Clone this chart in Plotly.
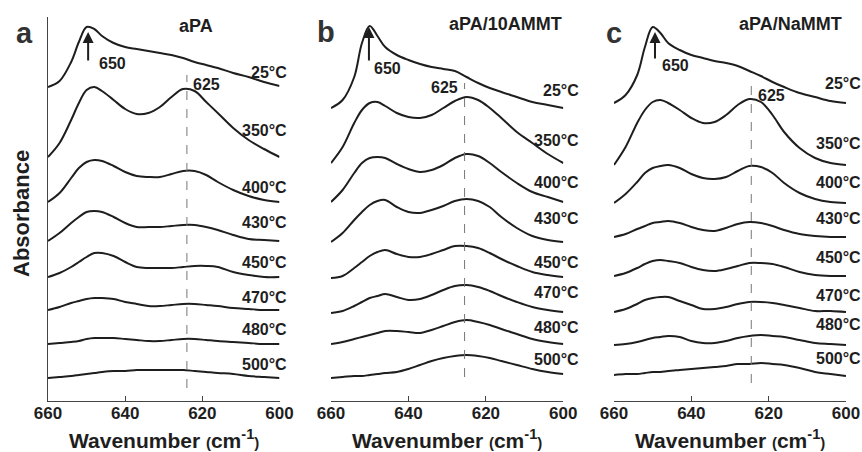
import plotly.graph_objects as go

# ---------------- data ----------------
wavenumber = [660, 657, 654, 652, 650, 648, 646, 643, 640, 637, 634, 631, 628, 625, 622, 619, 616, 612, 608, 604, 600]
temps = ["25°C", "350°C", "400°C", "430°C", "450°C", "470°C", "480°C", "500°C"]
panel_titles = ["aPA", "aPA/10AMMT", "aPA/NaMMT"]
panel_letters = ["a", "b", "c"]
tick_vals = [660, 640, 620, 600]

# panel a : aPA (stacked absorbance, a.u.)
a_25 = [3.15, 3.21, 3.40, 3.60, 3.75, 3.73, 3.66, 3.59, 3.55, 3.53, 3.51, 3.49, 3.47, 3.44, 3.40, 3.37, 3.34, 3.29, 3.25, 3.20, 3.16]
a_350 = [2.45, 2.59, 2.82, 2.99, 3.12, 3.15, 3.11, 3.02, 2.93, 2.88, 2.89, 2.95, 3.05, 3.13, 3.11, 3.00, 2.89, 2.74, 2.62, 2.53, 2.45]
a_400 = [2.00, 2.09, 2.24, 2.34, 2.40, 2.42, 2.41, 2.36, 2.30, 2.26, 2.25, 2.25, 2.28, 2.31, 2.31, 2.27, 2.20, 2.12, 2.06, 2.02, 2.00]
a_430 = [1.61, 1.69, 1.79, 1.85, 1.90, 1.91, 1.90, 1.85, 1.79, 1.75, 1.75, 1.75, 1.76, 1.77, 1.77, 1.75, 1.72, 1.67, 1.63, 1.62, 1.61]
a_450 = [1.25, 1.29, 1.35, 1.40, 1.45, 1.49, 1.49, 1.46, 1.40, 1.35, 1.34, 1.34, 1.34, 1.35, 1.36, 1.36, 1.35, 1.30, 1.27, 1.25, 1.25]
a_470 = [0.92, 0.95, 0.99, 1.01, 1.03, 1.04, 1.04, 1.03, 1.00, 0.98, 0.96, 0.96, 0.97, 0.98, 0.98, 0.97, 0.96, 0.94, 0.93, 0.92, 0.92]
a_480 = [0.58, 0.59, 0.60, 0.61, 0.63, 0.64, 0.64, 0.64, 0.63, 0.62, 0.61, 0.61, 0.62, 0.63, 0.63, 0.62, 0.61, 0.60, 0.59, 0.58, 0.58]
a_500 = [0.24, 0.25, 0.26, 0.27, 0.28, 0.29, 0.30, 0.31, 0.31, 0.32, 0.32, 0.32, 0.32, 0.32, 0.31, 0.30, 0.29, 0.28, 0.26, 0.25, 0.24]

# panel b : aPA/10AMMT
b_25 = [2.94, 3.02, 3.25, 3.59, 3.76, 3.66, 3.55, 3.47, 3.42, 3.38, 3.35, 3.33, 3.31, 3.25, 3.19, 3.14, 3.10, 3.05, 3.00, 2.97, 2.94]
b_350 = [2.39, 2.55, 2.79, 2.92, 2.99, 3.00, 2.96, 2.89, 2.85, 2.84, 2.87, 2.94, 3.01, 3.05, 3.02, 2.94, 2.84, 2.70, 2.59, 2.48, 2.39]
b_400 = [2.00, 2.12, 2.29, 2.39, 2.44, 2.45, 2.44, 2.38, 2.33, 2.30, 2.32, 2.37, 2.44, 2.48, 2.46, 2.39, 2.30, 2.19, 2.10, 2.05, 2.00]
b_430 = [1.60, 1.69, 1.82, 1.90, 1.97, 2.01, 2.02, 1.95, 1.90, 1.89, 1.92, 1.96, 2.01, 2.03, 2.01, 1.95, 1.85, 1.74, 1.66, 1.62, 1.60]
b_450 = [1.24, 1.26, 1.34, 1.40, 1.46, 1.50, 1.52, 1.48, 1.45, 1.45, 1.48, 1.52, 1.56, 1.56, 1.54, 1.49, 1.43, 1.36, 1.30, 1.27, 1.25]
b_470 = [0.89, 0.91, 0.96, 1.00, 1.04, 1.06, 1.08, 1.05, 1.02, 1.03, 1.07, 1.12, 1.16, 1.17, 1.15, 1.11, 1.06, 1.00, 0.95, 0.92, 0.90]
b_480 = [0.58, 0.60, 0.63, 0.65, 0.67, 0.69, 0.71, 0.71, 0.70, 0.69, 0.72, 0.76, 0.80, 0.82, 0.80, 0.77, 0.73, 0.68, 0.63, 0.60, 0.58]
b_500 = [0.24, 0.25, 0.26, 0.26, 0.27, 0.28, 0.29, 0.30, 0.33, 0.37, 0.41, 0.44, 0.46, 0.47, 0.46, 0.44, 0.41, 0.37, 0.33, 0.30, 0.28]

# panel c : aPA/NaMMT
c_25 = [2.99, 3.07, 3.27, 3.55, 3.75, 3.69, 3.59, 3.52, 3.47, 3.44, 3.41, 3.39, 3.36, 3.31, 3.26, 3.20, 3.15, 3.09, 3.05, 3.01, 2.99]
c_350 = [2.37, 2.55, 2.79, 2.92, 3.00, 3.02, 2.99, 2.92, 2.84, 2.79, 2.80, 2.87, 2.97, 3.03, 3.00, 2.87, 2.70, 2.54, 2.44, 2.39, 2.37]
c_400 = [1.99, 2.08, 2.20, 2.29, 2.34, 2.36, 2.37, 2.34, 2.28, 2.24, 2.23, 2.25, 2.31, 2.36, 2.35, 2.29, 2.19, 2.09, 2.03, 2.00, 1.99]
c_430 = [1.65, 1.68, 1.73, 1.76, 1.79, 1.80, 1.81, 1.79, 1.75, 1.72, 1.71, 1.74, 1.78, 1.80, 1.79, 1.76, 1.72, 1.68, 1.66, 1.65, 1.65]
c_450 = [1.26, 1.29, 1.34, 1.38, 1.41, 1.42, 1.41, 1.39, 1.35, 1.32, 1.31, 1.33, 1.36, 1.39, 1.39, 1.38, 1.35, 1.30, 1.27, 1.26, 1.26]
c_470 = [0.90, 0.93, 0.98, 1.02, 1.04, 1.05, 1.05, 1.01, 0.97, 0.93, 0.93, 0.95, 0.98, 1.00, 1.00, 0.99, 0.97, 0.94, 0.91, 0.91, 0.90]
c_480 = [0.57, 0.58, 0.60, 0.62, 0.64, 0.65, 0.66, 0.65, 0.61, 0.59, 0.59, 0.61, 0.64, 0.66, 0.67, 0.66, 0.65, 0.62, 0.59, 0.58, 0.57]
c_500 = [0.27, 0.28, 0.28, 0.29, 0.30, 0.30, 0.31, 0.32, 0.33, 0.34, 0.35, 0.36, 0.38, 0.38, 0.39, 0.38, 0.37, 0.34, 0.30, 0.28, 0.26]

panels = [
    [a_25, a_350, a_400, a_430, a_450, a_470, a_480, a_500],
    [b_25, b_350, b_400, b_430, b_450, b_470, b_480, b_500],
    [c_25, c_350, c_400, c_430, c_450, c_470, c_480, c_500],
]
peak_marker = 650
band_marker = [624, 625.5, 624.5]

# ---------------- layout helpers ----------------
W, H = 862, 452
FONT = "Liberation Sans, Arial, sans-serif"
INK = "#1e1e1e"
x_dom = [(48 / W, 279.5 / W), (331 / W, 563.3 / W), (614 / W, 846 / W)]
y_dom = ((H - 401) / H, (H - 17) / H)
y_rng = [0.01, 3.85]

# label placement (data units of each panel)
temp_label_y = [
    [3.30, 2.72, 2.15, 1.80, 1.40, 1.05, 0.73, 0.38],
    [3.12, 2.62, 2.20, 1.84, 1.40, 1.10, 0.75, 0.43],
    [3.19, 2.59, 2.20, 1.84, 1.45, 1.07, 0.78, 0.44],
]
temp_label_x = [289, 581, 863]
dash_span = [(0.14, 3.27), (0.25, 3.19), (0.19, 3.19)]
arrow_x = [649.6, 650.2, 649.4]
arrow_span = [(3.40, 3.70), (3.40, 3.75), (3.42, 3.70)]
lbl650 = [(643.4, 3.39), (645.3, 3.34), (644.2, 3.37)]
lbl625 = [(618.8, 3.18), (630.8, 3.15), (619.2, 3.07)]
letter_pos = [(24, 33), (326, 32), (614, 33)]
title_pos = [(196, 26), (505, 24), (790, 24)]

fig = go.Figure()
annotations = []
shapes = []
layout_axes = {}

for p in range(3):
    sfx = "" if p == 0 else str(p + 1)
    xa, ya = "x" + sfx, "y" + sfx
    for series in panels[p]:
        fig.add_trace(go.Scatter(
            x=wavenumber, y=series, mode="lines", xaxis=xa, yaxis=ya,
            line=dict(color=INK, width=2, shape="spline", smoothing=1.0),
            showlegend=False, hoverinfo="skip"))

    layout_axes["xaxis" + sfx] = dict(
        domain=list(x_dom[p]), anchor=ya, range=[660, 600], automargin=False,
        tickmode="array", tickvals=tick_vals,
        ticktext=["<b>%d</b>" % v for v in tick_vals],
        ticks="inside", ticklen=5, tickwidth=1.2, tickcolor="#444",
        ticklabelstandoff=-4,
        showline=True, linecolor="#444", linewidth=1.4,
        showgrid=False, zeroline=False,
        tickfont=dict(family=FONT, size=17, color=INK))
    layout_axes["yaxis" + sfx] = dict(
        domain=list(y_dom), anchor=xa, range=y_rng, automargin=False,
        showline=(p == 0), linecolor="#444", linewidth=1.4,
        showticklabels=False, ticks="", showgrid=False, zeroline=False)

    # dashed 625 marker
    shapes.append(dict(type="line", xref=xa, yref=ya,
                       x0=band_marker[p], x1=band_marker[p],
                       y0=dash_span[p][0], y1=dash_span[p][1],
                       line=dict(color="#777", width=1, dash="dash")))
    # arrow at 650
    annotations.append(dict(xref=xa, yref=ya, axref=xa, ayref=ya,
                            x=arrow_x[p], y=arrow_span[p][1],
                            ax=arrow_x[p], ay=arrow_span[p][0],
                            showarrow=True, arrowhead=2, arrowsize=1.1,
                            arrowwidth=2, arrowcolor=INK, text=""))
    annotations.append(dict(xref=xa, yref=ya, x=lbl650[p][0], y=lbl650[p][1],
                            xanchor="center", text="<b>%d</b>" % peak_marker, showarrow=False,
                            font=dict(family=FONT, size=16, color=INK)))
    annotations.append(dict(xref=xa, yref=ya, x=lbl625[p][0], y=lbl625[p][1],
                            xanchor="center", text="<b>625</b>", showarrow=False,
                            font=dict(family=FONT, size=16, color=INK)))
    # temperature labels
    for t, ty in zip(temps, temp_label_y[p]):
        annotations.append(dict(xref="paper", yref=ya,
                                x=temp_label_x[p] / W, y=ty, xanchor="right",
                                text="<b>%s</b>" % t, showarrow=False,
                                font=dict(family=FONT, size=16, color=INK)))
    # panel letter and title
    annotations.append(dict(xref="paper", yref="paper", xanchor="center", yanchor="middle",
                            x=letter_pos[p][0] / W, y=1 - letter_pos[p][1] / H,
                            text="<b>%s</b>" % panel_letters[p], showarrow=False,
                            font=dict(family=FONT, size=29, color="#333")))
    annotations.append(dict(xref="paper", yref="paper", xanchor="center", yanchor="middle",
                            x=title_pos[p][0] / W, y=1 - title_pos[p][1] / H,
                            text="<b>%s</b>" % panel_titles[p], showarrow=False,
                            font=dict(family=FONT, size=18, color=INK)))
    # x-axis title
    annotations.append(dict(xref="paper", yref="paper", xanchor="center", yanchor="middle",
                            x=(x_dom[p][0] + x_dom[p][1]) / 2, y=1 - 439 / H,
                            text="<b>Wavenumber <span style='font-size:15px'>(</span>cm<sup>-1</sup><span style='font-size:15px'>)</span></b>",
                            showarrow=False,
                            font=dict(family=FONT, size=21, color=INK)))

annotations.append(dict(xref="paper", yref="paper", xanchor="center", yanchor="middle",
                        x=22 / W, y=1 - 214 / H,
                        text="<b>Absorbance</b>", textangle=-90, showarrow=False,
                        font=dict(family=FONT, size=22, color=INK)))

fig.update_layout(
    width=W, height=H, margin=dict(l=0, r=0, t=0, b=0, autoexpand=False),
    paper_bgcolor="white", plot_bgcolor="white",
    annotations=annotations, shapes=shapes, **layout_axes)

fig.write_html("out.html")
